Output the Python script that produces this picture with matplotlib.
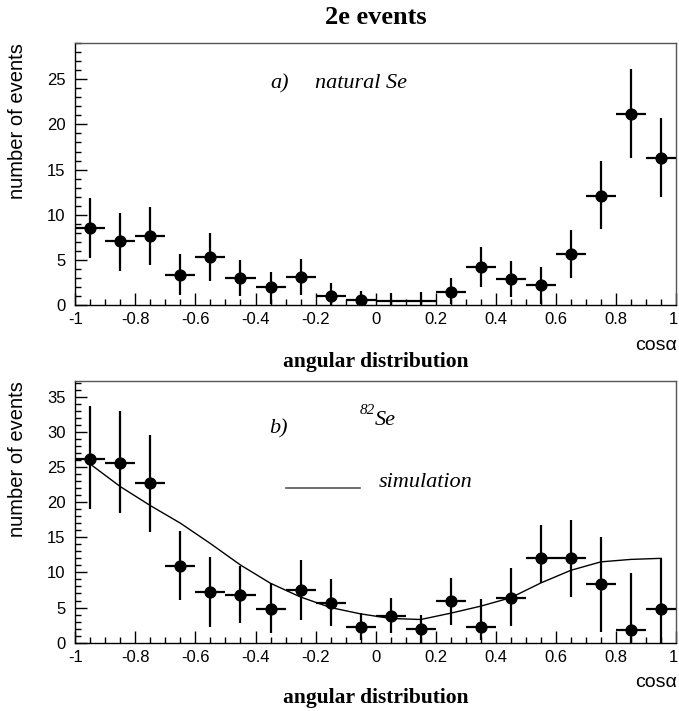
import matplotlib
matplotlib.use("Agg")
import matplotlib.pyplot as plt
from matplotlib.ticker import MultipleLocator
from matplotlib.transforms import ScaledTranslation
import numpy as np

# bin centres of cos(alpha), bin width 0.1
bin_centers = [-0.95, -0.85, -0.75, -0.65, -0.55, -0.45, -0.35, -0.25, -0.15, -0.05,
               0.05, 0.15, 0.25, 0.35, 0.45, 0.55, 0.65, 0.75, 0.85, 0.95]
half_width = 0.05

# a) natural Se : value, lower and upper end of error bar
nat_y = [8.5, 7.1, 7.64, 3.3, 5.35, 2.95, 1.96, 3.07, 1.03, 0.55,
         0.45, 0.45, 1.47, 4.24, 2.84, 2.2, 5.65, 12.07, 21.2, 16.3]
nat_lo = [5.2, 3.8, 4.4, 1.1, 2.7, 1.0, 0.1, 1.1, 0.0, 0.0,
          0.0, 0.0, 0.1, 1.96, 0.92, 0.1, 3.0, 8.4, 16.3, 12.0]
nat_hi = [11.8, 10.15, 10.8, 5.65, 8.0, 5.0, 3.7, 5.1, 2.4, 1.55,
          1.3, 1.4, 2.95, 6.46, 4.87, 4.24, 8.3, 15.9, 26.1, 20.7]
nat_nomarker = [10, 11]   # bins drawn without a marker

# b) 82Se
se82_y = [26.2, 25.6, 22.7, 10.95, 7.16, 6.8, 4.8, 7.5, 5.6, 2.18,
          3.8, 1.9, 5.93, 2.28, 6.4, 12.0, 12.0, 8.3, 1.8, 4.8]
se82_lo = [19.0, 18.4, 15.7, 6.07, 2.2, 2.75, 1.33, 3.2, 2.37, 0.38,
           1.33, 0.0, 2.5, 0.38, 2.37, 8.5, 6.5, 1.56, 0.0, 0.0]
se82_hi = [33.6, 32.9, 29.6, 15.9, 12.2, 10.95, 8.44, 11.76, 9.0, 4.18,
           6.3, 3.94, 9.25, 6.16, 10.6, 16.8, 17.5, 15.0, 9.96, 12.0]

# simulation curve (read at bin centres)
sim_y = [25.4, 22.2, 19.5, 17.0, 14.1, 11.05, 8.45, 6.5, 5.0, 4.1,
         3.45, 3.3, 4.2, 5.2, 6.4, 8.5, 10.3, 11.5, 11.85, 12.0]

SERIF = ["Liberation Serif", "DejaVu Serif"]
SANS = ["Liberation Sans", "DejaVu Sans"]

W, H = 679, 711
fig = plt.figure(figsize=(W / 100, H / 100), dpi=100)


def px_axes(left, top, right, bottom):
    return fig.add_axes([left / W, 1 - bottom / H, (right - left) / W, (bottom - top) / H])


def style_axes(ax, ymax):
    ax.set_xlim(-1, 1)
    ax.set_ylim(0, ymax)
    ax.xaxis.set_major_locator(MultipleLocator(0.2))
    ax.xaxis.set_minor_locator(MultipleLocator(0.05))
    ax.yaxis.set_major_locator(MultipleLocator(5))
    ax.yaxis.set_minor_locator(MultipleLocator(1))
    ax.tick_params(which="both", direction="in", top=False, right=False, width=1, color="black")
    ax.tick_params(which="major", length=8.5)
    ax.tick_params(which="minor", length=4.3)
    ax.tick_params(axis="x", pad=5)
    ax.tick_params(axis="y", pad=7)
    ax.xaxis.set_major_formatter(plt.FuncFormatter(lambda v, p: ("%g" % round(v, 2))))
    fig.canvas.draw()
    xlabels = ax.get_xticklabels()
    for lab in xlabels + ax.get_yticklabels():
        lab.set_family(SANS)
        lab.set_fontsize(12)
    # keep the "1" at the right end inside the picture
    for lab in xlabels:
        if lab.get_text() == "1":
            lab.set_transform(lab.get_transform() + ScaledTranslation(-3 / 100, 0, fig.dpi_scale_trans))
    for s in ("top", "right"):
        ax.spines[s].set_color("#555555")
        ax.spines[s].set_linewidth(1.0)
    for s in ("left", "bottom"):
        ax.spines[s].set_color("black")
        ax.spines[s].set_linewidth(1.0)


def draw_points(ax, yv, lo, hi, skip=()):
    x = np.array(bin_centers)
    y = np.array(yv)
    err = [y - np.array(lo), np.array(hi) - y]
    ax.errorbar(x, y, xerr=half_width, yerr=err, fmt="none", ecolor="black",
                elinewidth=1.6, capsize=0, zorder=3)
    keep = [i for i in range(len(x)) if i not in skip]
    ax.plot(x[keep], y[keep], "o", color="black", markersize=7.8, zorder=4)


# ---- panel a) natural Se ----
ax1 = px_axes(75.3, 42.7, 676, 305)
style_axes(ax1, 29.05)
draw_points(ax1, nat_y, nat_lo, nat_hi, skip=nat_nomarker)
ax1.text(-0.352, 24.0, "a)", family=SERIF, style="italic", fontsize=16)
ax1.text(-0.202, 24.0, "natural Se", family=SERIF, style="italic", fontsize=16)

# ---- panel b) 82Se ----
ax2 = px_axes(75.3, 380.7, 676, 642.7)
style_axes(ax2, 37.27)
ax2.plot(bin_centers, sim_y, color="black", lw=1.0, zorder=2)
draw_points(ax2, se82_y, se82_lo, se82_hi)
ax2.text(-0.355, 29.7, "b)", family=SERIF, style="italic", fontsize=16)
ax2.text(-0.052, 32.6, "82", family=SERIF, style="italic", fontsize=11)
ax2.text(-0.002, 30.9, "Se", family=SERIF, style="italic", fontsize=16)
ax2.plot([-0.298, -0.052], [22.0, 22.0], color="#555555", lw=1.2)
ax2.text(0.011, 22.1, "simulation", family=SERIF, style="italic", fontsize=16)

# ---- figure texts ----
fig.text(375.6 / W, 1 - 24.5 / H, "2e events", family=SERIF, weight="bold",
         fontsize=19, ha="center", va="baseline")
for base_y, top_px in ((366.7, 42.7), (702.7, 380.7)):
    fig.text(375.6 / W, 1 - base_y / H, "angular distribution", family=SERIF,
             weight="bold", fontsize=15.5, ha="center", va="baseline")
    fig.text(18 / W, 1 - top_px / H, "number of events", family=SANS, fontsize=14.5,
             rotation=90, ha="center", va="top")
for base_y in (350, 686.7):
    fig.text(677 / W, 1 - base_y / H, "cos\u03b1", family=SANS, fontsize=14,
             ha="right", va="baseline")

fig.savefig("out.png", dpi=100)
